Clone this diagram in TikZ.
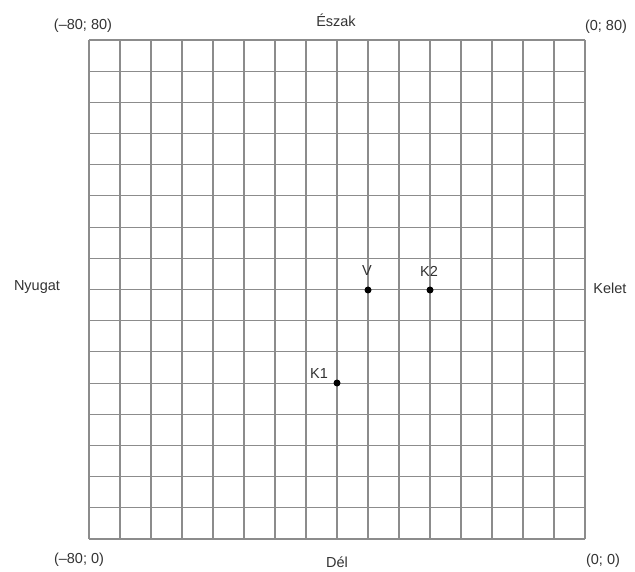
\documentclass[tikz,border=0pt]{standalone}
\usepackage{fontspec}
\setmainfont{Liberation Sans}
\begin{document}
\begin{tikzpicture}[x=1pt,y=-1pt,
  lbl/.style={text=black!80, font=\fontsize{14.5}{17}\selectfont, inner sep=0pt},
  gridline/.style={draw=black!45, line width=1.1pt},
  pt/.style={circle, fill=black, inner sep=0pt, minimum size=7pt}]
\useasboundingbox[fill=white] (0,0) rectangle (635,572);
% grid 16x16
\foreach \i in {0,...,16} {
  \draw[gridline] ({89+\i*31},40) -- ({89+\i*31},539);
  \draw[gridline] (89,{40+\i*31.1875}) -- (585,{40+\i*31.1875});
}
% corner and direction labels
\node[lbl] (nw) at (83,26) {(\textendash80; 80)};
\node[lbl] (ne) at (606,27) {(0; 80)};
\node[lbl] (sw) at (79,560) {(\textendash80; 0)};
\node[lbl] (se) at (603,561) {(0; 0)};
\node[lbl] (north) at (336,20) {Észak};
\node[lbl] (south) at (337,562) {Dél};
\node[lbl] (west) at (37,287) {Nyugat};
\node[lbl] (east) at (610,288) {Kelet};
% points
\node[pt] (V) at (368,290) {};
\node[pt] (K2) at (430,290) {};
\node[pt] (K1) at (337,383) {};
\node[lbl] (Vl) at (367,271) {V};
\node[lbl] (K2l) at (429,271) {K2};
\node[lbl] (K1l) at (319,374) {K1};
\end{tikzpicture}
\end{document}
